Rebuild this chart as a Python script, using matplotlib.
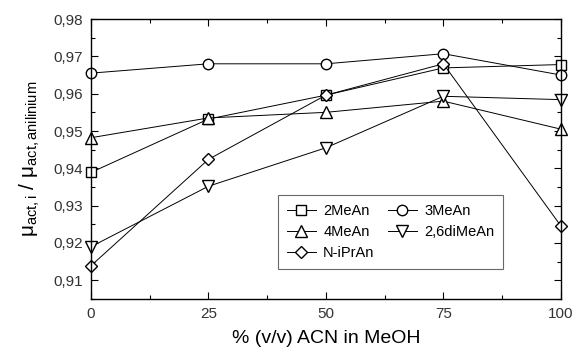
import matplotlib
matplotlib.use("Agg")
import matplotlib.pyplot as plt
from matplotlib.ticker import MultipleLocator, FuncFormatter

plt.rcParams["font.family"] = ["Liberation Sans", "DejaVu Sans"]
plt.rcParams["mathtext.fontset"] = "custom"
plt.rcParams["mathtext.rm"] = "Liberation Sans"
plt.rcParams["mathtext.it"] = "Liberation Sans"

acn = [0, 25, 50, 75, 100]
me2 = [0.9389, 0.9532, 0.9596, 0.9669, 0.9678]
me3 = [0.9655, 0.9680, 0.9680, 0.9707, 0.9650]
me4 = [0.9482, 0.9535, 0.9550, 0.9580, 0.9505]
dime26 = [0.9190, 0.9352, 0.9455, 0.9593, 0.9584]
iprn = [0.9139, 0.9424, 0.9596, 0.9680, 0.9246]

labels = ["2MeAn", "3MeAn", "4MeAn", "2,6diMeAn", "N-iPrAn"]
series = [me2, me3, me4, dime26, iprn]
markers = ["s", "o", "^", "v", "D"]
sizes = [7, 7.5, 8, 8, 6]

fig = plt.figure(figsize=(5.74, 3.52), dpi=100)
ax = fig.add_axes([0.1585, 0.1506, 0.8185, 0.7954])

handles = []
for y, lab, m, ms in zip(series, labels, markers, sizes):
    h, = ax.plot(acn, y, marker=m, ms=ms, color="black", lw=0.7,
                 mfc="white", mec="black", mew=1.0, label=lab, clip_on=False)
    handles.append(h)

ax.set_xlim(0, 100)
ax.set_ylim(0.905, 0.98)
ax.xaxis.set_major_locator(MultipleLocator(25))
ax.xaxis.set_minor_locator(MultipleLocator(12.5))
ax.yaxis.set_major_locator(MultipleLocator(0.01))
ax.yaxis.set_minor_locator(MultipleLocator(0.005))
ax.yaxis.set_major_formatter(FuncFormatter(lambda v, p: f"{v:.2f}".replace(".", ",")))
ax.tick_params(which="both", direction="in", top=True, right=True, labelsize=11,
               colors="black", labelcolor="#333333")
ax.tick_params(which="major", length=5, width=0.8, pad=6)
ax.tick_params(which="minor", length=3, width=0.8)
for s in ax.spines.values():
    s.set_linewidth(1.0)

ax.set_xlabel("% (v/v) ACN in MeOH", fontsize=14, labelpad=6)
ax.set_ylabel(r"$\mathregular{\mu_{act,i}\ /\ \mu_{act,anilinium}}$", fontsize=15, labelpad=8)

order = [0, 2, 4, 1, 3]
leg = ax.legend([handles[i] for i in order], [labels[i] for i in order], ncol=2,
                loc="lower left", bbox_to_anchor=(0.398, 0.107), borderaxespad=0,
                fontsize=10.5, frameon=True, fancybox=False, edgecolor="#444444",
                handlelength=2.0, columnspacing=0.9, handletextpad=0.5,
                labelspacing=0.5, borderpad=0.6)
leg.get_frame().set_linewidth(0.8)

fig.savefig("out.png", dpi=100)
